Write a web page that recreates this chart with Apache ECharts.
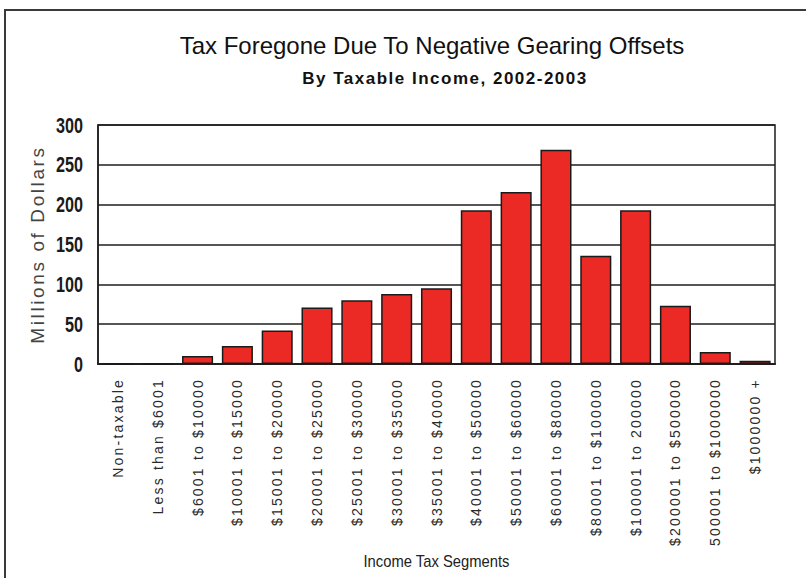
<!DOCTYPE html>
<html>
<head>
<meta charset="utf-8">
<title>Tax Foregone Due To Negative Gearing Offsets</title>
<script src="https://cdn.jsdelivr.net/npm/echarts@6/dist/echarts.min.js"></script>
<style>
  html, body { margin: 0; padding: 0; background: #ffffff; }
  #chart { width: 806px; height: 578px; }
</style>
</head>
<body>
<div id="chart"></div>
<script>
// Income tax segments (x axis)
const categories = [
  'Non-taxable',
  'Less than $6001',
  '$6001 to $10000',
  '$10001 to $15000',
  '$15001 to $20000',
  '$20001 to $25000',
  '$25001 to $30000',
  '$30001 to $35000',
  '$35001 to $40000',
  '$40001 to $50000',
  '$50001 to $60000',
  '$60001 to $80000',
  '$80001 to $100000',
  '$100001 to 200000',
  '$200001 to $500000',
  '500001 to $1000000',
  '$1000000 +'
];

// Tax foregone, millions of dollars
const taxForegone = [0, 0, 10, 22.5, 42, 71, 80, 88, 95, 193, 216, 269, 136, 193, 73, 15, 4];

// Value axis ticks
const yTicks = { min: 0, max: 300, interval: 50 };
const yTickLabels = ['0', '50', '100', '150', '200', '250', '300'];

const titleText = 'Tax Foregone Due To Negative Gearing Offsets';
const subtitleText = 'By Taxable Income, 2002-2003';
const yAxisTitle = 'Millions of Dollars';
const xAxisTitle = 'Income Tax Segments';

const SANS = "'Liberation Sans', Arial, sans-serif";

const chart = echarts.init(document.getElementById('chart'), null, { renderer: 'svg' });

chart.setOption({
  animation: false,
  backgroundColor: '#ffffff',
  graphic: [{
    // outer frame of the chart sheet (runs off the right and bottom edges)
    type: 'rect',
    silent: true,
    z: -10,
    shape: { x: 5, y: 10, width: 1200, height: 1200 },
    style: { fill: 'none', stroke: '#3a3a3a', lineWidth: 2 }
  }],
  title: [
    {
      text: titleText,
      left: 432,
      top: 33,
      padding: 0,
      textAlign: 'center',
      textStyle: { fontFamily: SANS, fontSize: 24, fontWeight: 'normal', color: '#111111' }
    },
    {
      text: subtitleText,
      left: 445,
      top: 70,
      padding: 0,
      textAlign: 'center',
      textStyle: { fontFamily: SANS, fontSize: 17, fontWeight: 'bold', color: '#111111' }
    }
  ],
  grid: {
    left: 98,
    top: 125,
    width: 677,
    height: 239,
    show: true,
    borderColor: '#1e1e1e',
    borderWidth: 1.5,
    backgroundColor: '#ffffff'
  },
  xAxis: {
    type: 'category',
    data: categories,
    name: xAxisTitle,
    nameLocation: 'middle',
    nameGap: 189,
    nameMoveOverlap: false,
    nameTextStyle: { fontFamily: SANS, fontSize: 17, color: '#222222' },
    axisLine: { show: true, lineStyle: { color: '#1e1e1e', width: 2 } },
    axisTick: { show: false },
    axisLabel: {
      interval: 0,
      rotate: 90,
      margin: 14,
      fontFamily: SANS,
      fontSize: 14,
      color: '#2a2a2a'
    }
  },
  yAxis: {
    type: 'value',
    min: yTicks.min,
    max: yTicks.max,
    interval: yTicks.interval,
    name: yAxisTitle,
    nameLocation: 'middle',
    nameRotate: 90,
    nameGap: 51,
    nameMoveOverlap: false,
    nameTextStyle: { fontFamily: SANS, fontSize: 19, color: '#444444' },
    axisLine: { show: true, lineStyle: { color: '#1e1e1e', width: 1.5 } },
    axisTick: { show: false },
    axisLabel: {
      margin: 15,
      fontFamily: SANS,
      fontSize: 22,
      fontWeight: 'bold',
      color: '#1a1a1a'
    },
    splitLine: { show: true, lineStyle: { color: '#1e1e1e', width: 1.5 } }
  },
  series: [{
    type: 'bar',
    data: taxForegone,
    barCategoryGap: '22%',
    itemStyle: { color: '#ec2a25', borderColor: '#1a1a1a', borderWidth: 1.5 }
  }]
});

// Spaced-out lettering for the axis texts and the subtitle
const spacedTexts = new Map();
categories.forEach(c => spacedTexts.set(c, '2.2px'));
spacedTexts.set(yAxisTitle, '2.6px');
spacedTexts.set(subtitleText, '1.5px');

// Condensed lettering: squeeze the glyphs to a set run length
const condensedTexts = new Map();
yTickLabels.forEach(l => condensedTexts.set(l, 9 * l.length));
condensedTexts.set(xAxisTitle, 146);

function applyLettering() {
  chart.getDom().querySelectorAll('text').forEach(t => {
    const label = t.textContent;
    const s = spacedTexts.get(label);
    if (s) t.style.letterSpacing = s;
    const len = condensedTexts.get(label);
    if (len) {
      t.setAttribute('textLength', len);
      t.setAttribute('lengthAdjust', 'spacingAndGlyphs');
    }
  });
}
chart.on('finished', applyLettering);
applyLettering();
</script>
</body>
</html>
